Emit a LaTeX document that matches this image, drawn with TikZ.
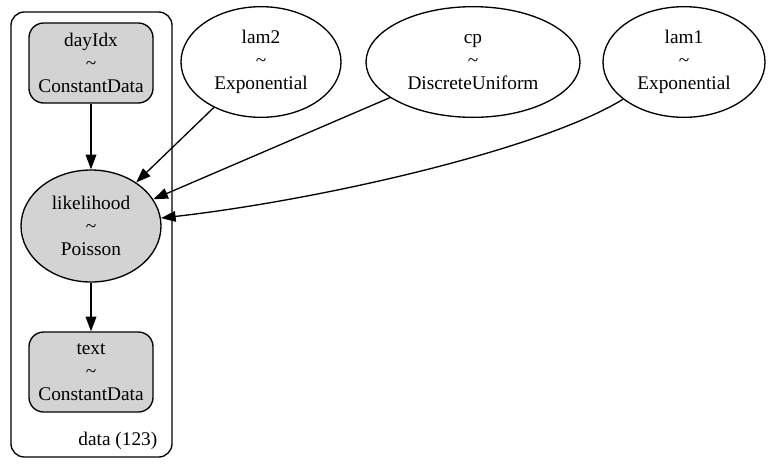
\documentclass[tikz,border=0pt]{standalone}
\usepackage{fontspec}
\setmainfont{Liberation Serif}
\usetikzlibrary{arrows.meta,shapes.geometric}
\definecolor{gvgray}{HTML}{D3D3D3}

\begin{document}
\begin{tikzpicture}[x=0.75pt,y=-0.75pt,
  font=\fontsize{14.5pt}{17.4pt}\selectfont,
  rv/.style={draw,ellipse,inner sep=0pt,align=center,line width=1pt,minimum height=83pt},
  obs/.style={draw,fill=gvgray,rounded corners=11pt,inner sep=0pt,align=center,line width=1pt,
              minimum width=93pt,minimum height=60pt},
  dep/.style={-{Triangle[length=11pt,width=8pt]},line width=1pt}]
 \useasboundingbox (0,0) rectangle (773,469);
 % plate
 \draw[rounded corners=10pt,line width=1pt] (11,12) rectangle (172,457);
 \node[anchor=base east] (plate) at (162,445) {data (123)};
 % observed and likelihood
 \node[obs] (dayIdx) at (91,63) {dayIdx\\\textasciitilde\\ConstantData};
 \node[rv,fill=gvgray,minimum width=105pt,minimum height=84pt] (likelihood) at (91,226) {likelihood\\\textasciitilde\\Poisson};
 \node[obs] (txt) at (91,372) {text\\\textasciitilde\\ConstantData};
 % priors
 \node[rv,minimum width=120pt] (lam2) at (261,62) {lam2\\\textasciitilde\\Exponential};
 \node[rv,minimum width=160.5pt] (cp) at (473,62) {cp\\\textasciitilde\\DiscreteUniform};
 \node[rv,minimum width=121.5pt] (lam1) at (684,62) {lam1\\\textasciitilde\\Exponential};
 % edges
 \draw[dep] (dayIdx) -- (likelihood);
 \draw[dep] (likelihood) -- (txt);
 \draw[dep] (lam2) -- (likelihood);
 \draw[dep] (cp) -- (likelihood);
 \draw[dep] (lam1) .. controls (540,150) and (320,200) .. (likelihood);
\end{tikzpicture}
\end{document}
